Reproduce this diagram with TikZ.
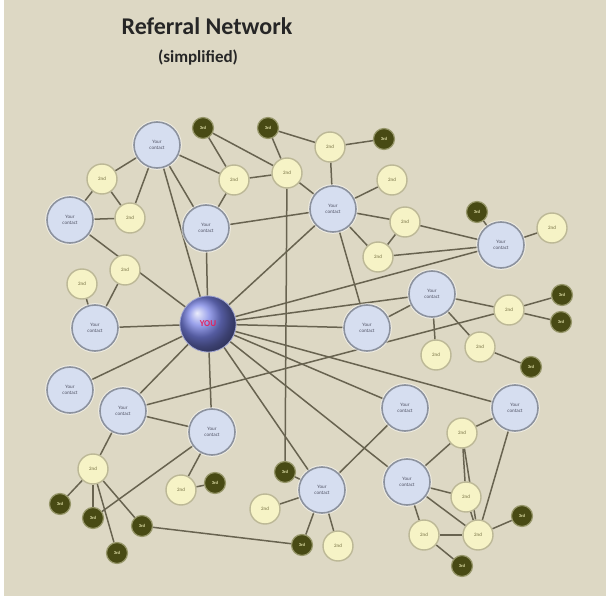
\documentclass[tikz,border=0pt]{standalone}
\usepackage{fontspec}
\setmainfont{Carlito}
\usetikzlibrary{shadings}
\definecolor{bgc}{RGB}{221,216,196}
\definecolor{cfill}{RGB}{214,222,240}
\definecolor{cborder}{RGB}{140,146,158}
\definecolor{ctext}{RGB}{80,82,100}
\definecolor{yfill}{RGB}{246,243,198}
\definecolor{yborder}{RGB}{188,184,150}
\definecolor{ytext}{RGB}{115,110,65}
\definecolor{dfill}{RGB}{72,74,20}
\definecolor{dborder}{RGB}{150,150,105}
\definecolor{dtext}{RGB}{225,225,170}
\definecolor{ecol}{RGB}{104,99,80}
\definecolor{youtext}{RGB}{225,35,95}
\definecolor{titlec}{RGB}{38,38,38}
\pgfdeclarelayer{bglayer}
\pgfdeclarelayer{edgelayer}
\pgfsetlayers{bglayer,edgelayer,main}
\tikzset{
  contact/.style={circle, minimum size=46pt, inner sep=0pt, fill=cfill, draw=cborder, line width=1.6pt, text=ctext, align=center, font=\fontsize{5}{5.5}\selectfont,
    preaction={draw=white, line width=3.6pt, draw opacity=0.55}},
  snd/.style={circle, minimum size=30pt, inner sep=0pt, fill=yfill, draw=yborder, line width=1.4pt, text=ytext, font=\fontsize{5}{5.5}\selectfont},
  trd/.style={circle, minimum size=21pt, inner sep=0pt, fill=dfill, draw=dborder, line width=1.2pt, text=dtext, font=\fontsize{4.5}{5}\selectfont\bfseries},
  youball/.style={circle, minimum size=56pt, inner sep=0pt, ball color={rgb,255:red,120;green,130;blue,228}, draw={rgb,255:red,160;green,165;blue,210}, line width=0.8pt, text=youtext, font=\fontsize{9}{10}\selectfont\bfseries},
  link/.style={draw=ecol, line width=1.5pt},
  titletext/.style={text=titlec, inner sep=0pt}
}
\begin{document}
\begin{tikzpicture}[x=1pt,y=-1pt]
\useasboundingbox (0,0) rectangle (611,599);
\begin{pgfonlayer}{bglayer}
\fill[white] (0,0) rectangle (611,599);
\fill[bgc] (4,0) rectangle (606,596);
\end{pgfonlayer}
\node[titletext, font=\fontsize{24}{27}\selectfont\bfseries] (title) at (207,26) {Referral Network};
\node[titletext, font=\fontsize{17}{19}\selectfont\bfseries] (subtitle) at (198,58) {(simplified)};
% YOU
\node[youball] (you) at (208,324) {YOU};
% contacts
\node[contact] (c1) at (157,145) {Your\\contact};
\node[contact] (c2) at (70,220) {Your\\contact};
\node[contact] (c3) at (206,228) {Your\\contact};
\node[contact] (c4) at (333,209) {Your\\contact};
\node[contact] (c5) at (501,245) {Your\\contact};
\node[contact] (c6) at (432,294) {Your\\contact};
\node[contact] (c7) at (367,328) {Your\\contact};
\node[contact] (c8) at (95,328) {Your\\contact};
\node[contact] (c9) at (70,390) {Your\\contact};
\node[contact] (c10) at (123,411) {Your\\contact};
\node[contact] (c11) at (212,432) {Your\\contact};
\node[contact] (c12) at (405,408) {Your\\contact};
\node[contact] (c13) at (515,408) {Your\\contact};
\node[contact] (c14) at (322,490) {Your\\contact};
\node[contact] (c15) at (407,482) {Your\\contact};
% 2nd
\node[snd] (y1) at (102,179) {2nd};
\node[snd] (y2) at (130,218) {2nd};
\node[snd] (y3) at (234,180) {2nd};
\node[snd] (y4) at (287,173) {2nd};
\node[snd] (y5) at (330,147) {2nd};
\node[snd] (y6) at (392,180) {2nd};
\node[snd] (y7) at (405,222) {2nd};
\node[snd] (y8) at (378,257) {2nd};
\node[snd] (y9) at (552,228) {2nd};
\node[snd] (y10) at (82,284) {2nd};
\node[snd] (y11) at (125,270) {2nd};
\node[snd] (y12) at (509,310) {2nd};
\node[snd] (y13) at (480,347) {2nd};
\node[snd] (y14) at (436,355) {2nd};
\node[snd] (y15) at (462,433) {2nd};
\node[snd] (y16) at (93,469) {2nd};
\node[snd] (y17) at (181,490) {2nd};
\node[snd] (y18) at (265,509) {2nd};
\node[snd] (y19) at (338,546) {2nd};
\node[snd] (y20) at (466,497) {2nd};
\node[snd] (y21) at (424,535) {2nd};
\node[snd] (y22) at (478,535) {2nd};
% 3rd
\node[trd] (da) at (203,128) {3rd};
\node[trd] (db) at (268,128) {3rd};
\node[trd] (d2) at (384,139) {3rd};
\node[trd] (d3) at (477,212) {3rd};
\node[trd] (d4) at (562,295) {3rd};
\node[trd] (d5) at (561,322) {3rd};
\node[trd] (d6) at (531,367) {3rd};
\node[trd] (d7) at (285,472) {3rd};
\node[trd] (d8) at (215,483) {3rd};
\node[trd] (d9) at (60,504) {3rd};
\node[trd] (d10) at (93,518) {3rd};
\node[trd] (d11) at (142,526) {3rd};
\node[trd] (d12) at (117,553) {3rd};
\node[trd] (d13) at (302,545) {3rd};
\node[trd] (d14) at (522,516) {3rd};
\node[trd] (d15) at (462,566) {3rd};
\begin{pgfonlayer}{edgelayer}
\foreach \c in {c1,c2,c3,c4,c5,c6,c7,c8,c9,c10,c11,c12,c13,c14,c15}
  \draw[link] (you) -- (\c);
\foreach \a/\b in {c1/y1,c1/y2,c1/c3,c1/y3,c2/y1,c2/y2,y1/y2,c3/y3,c3/c4,
  y3/y4,da/y3,da/y4,db/y4,db/y5,y4/c4,y4/d7,c4/y5,c4/y6,c4/y7,c4/y8,c4/c7,
  y5/d2,y7/y8,y7/c5,y8/c5,c5/d3,c5/y9,c6/c7,c6/y12,c6/y13,c6/y14,
  y12/d4,y12/d5,y12/c10,y13/d6,c8/y10,c8/y11,c10/c11,c10/y16,
  y16/d9,y16/d10,y16/d11,y16/d12,d10/c11,c11/y17,y17/d8,d11/d13,
  c12/c14,c14/d7,c14/y18,c14/y19,c14/d13,c13/y15,c13/y22,
  c15/y15,c15/y20,c15/y21,c15/y22,y15/y20,y15/y22,y20/y22,y21/y22,y21/d15,y22/d14}
  \draw[link] (\a) -- (\b);
\end{pgfonlayer}
\end{tikzpicture}
\end{document}
